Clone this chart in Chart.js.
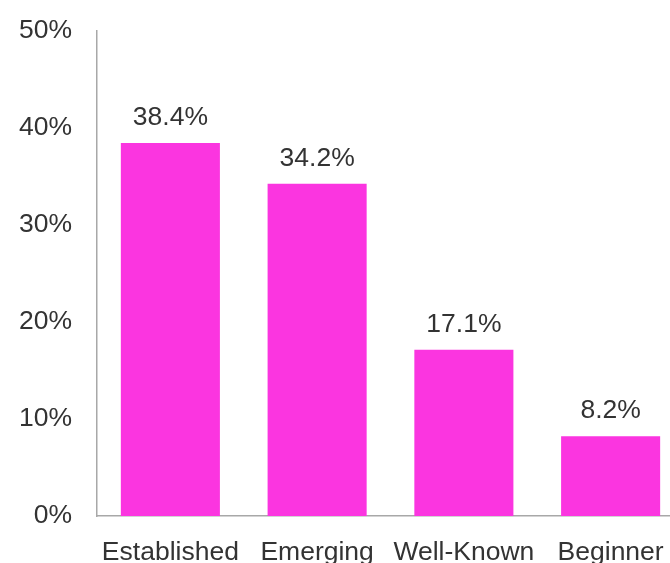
<!DOCTYPE html>
<html lang="en">
<head>
  <meta charset="UTF-8" />
  <title>Share by stage</title>
  <style>
    html, body {
      margin: 0;
      padding: 0;
      background: #ffffff;
      overflow: hidden;
    }
    #wrap {
      width: 684px;
      height: 563px;
    }
  </style>
  <script src="https://cdn.jsdelivr.net/npm/chart.js"></script>
</head>
<body>
  <div id="wrap"><canvas id="chart" width="684" height="563"></canvas></div>

  <script>
    const categories = ["Established", "Emerging", "Well-Known", "Beginner"];
    const shares = [38.4, 34.2, 17.1, 8.2];
    const yTicks = [0, 10, 20, 30, 40, 50];

    const textColor = "#333333";
    const fontFamily = "'Liberation Sans', Arial, Helvetica, sans-serif";

    // value labels over each bar
    const barLabels = {
      id: "barLabels",
      afterDatasetsDraw(chart) {
        const ctx = chart.ctx;
        const meta = chart.getDatasetMeta(0);
        ctx.save();
        ctx.font = "26.5px " + fontFamily;
        ctx.fillStyle = textColor;
        ctx.textAlign = "center";
        ctx.textBaseline = "alphabetic";
        meta.data.forEach((bar, i) => {
          ctx.fillText(shares[i].toFixed(1) + "%", bar.x, bar.y - 18);
        });
        ctx.restore();
      }
    };

    new Chart(document.getElementById("chart"), {
      type: "bar",
      data: {
        labels: categories,
        datasets: [{
          data: shares,
          backgroundColor: "#fb35e0",
          borderWidth: 0,
          categoryPercentage: 1,
          barPercentage: 0.675
        }]
      },
      options: {
        responsive: false,
        animation: false,
        layout: { padding: { top: 12, right: 0, left: 0, bottom: 0 } },
        plugins: {
          legend: { display: false },
          tooltip: { enabled: false }
        },
        scales: {
          x: {
            grid: { display: false },
            border: { display: true, color: "#a8a8a8", width: 1.5 },
            ticks: {
              color: textColor,
              font: { size: 26.5, family: fontFamily },
              padding: 13,
              maxRotation: 0,
              autoSkip: false
            },
            afterFit(scale) { scale.height = 47; }
          },
          y: {
            min: 0,
            max: 50,
            afterBuildTicks(scale) { scale.ticks = yTicks.map(v => ({ value: v })); },
            grid: { display: false },
            border: { display: true, color: "#a8a8a8", width: 1.5 },
            ticks: {
              color: textColor,
              font: { size: 26.5, family: fontFamily, lineHeight: 1 },
              padding: 17,
              callback: v => v + "%"
            },
            afterFit(scale) { scale.width = 97; }
          }
        }
      },
      plugins: [barLabels]
    });
  </script>
</body>
</html>
